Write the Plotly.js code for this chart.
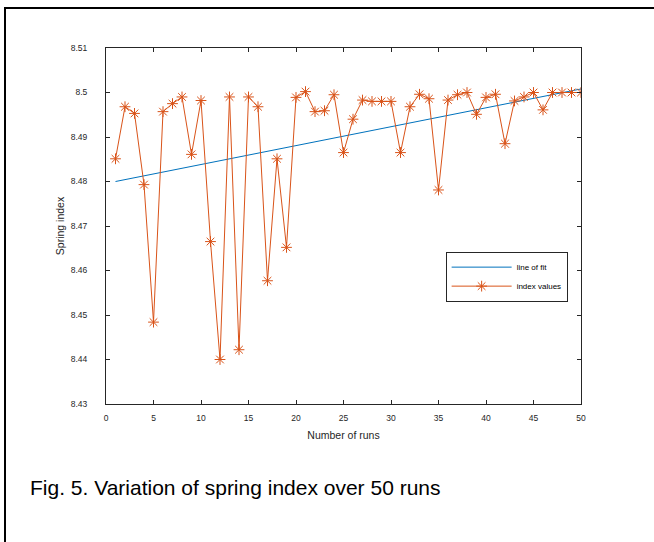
<!DOCTYPE html>
<html>
<head>
<meta charset="utf-8">
<script src="https://cdn.plot.ly/plotly-3.0.1.min.js"></script>
<style>
html,body{margin:0;padding:0;background:#fff;}
#wrap{position:relative;width:654px;height:542px;}
#frame{position:absolute;left:4px;top:7px;width:650px;height:535px;border-top:2px solid #000;border-left:2px solid #000;box-sizing:border-box;pointer-events:none;z-index:5;}
#chart{position:absolute;left:0;top:0;width:654px;height:542px;}
</style>
</head>
<body>
<div id="wrap"><div id="chart"></div><div id="frame"></div></div>
<script>
const runs = [1,2,3,4,5,6,7,8,9,10,11,12,13,14,15,16,17,18,19,20,21,22,23,24,25,26,27,28,29,30,31,32,33,34,35,36,37,38,39,40,41,42,43,44,45,46,47,48,49,50];
const indexValues = [8.4851,8.4968,8.4953,8.4793,8.4484,8.4957,8.4975,8.4990,8.4861,8.4982,
  8.4665,8.4400,8.4990,8.4422,8.4990,8.4968,8.4577,8.4851,8.4652,8.4989,
  8.5002,8.4957,8.4959,8.4995,8.4865,8.4940,8.4983,8.4980,8.4980,8.4980,
  8.4865,8.4968,8.4996,8.4986,8.4781,8.4983,8.4995,8.5000,8.4951,8.4989,
  8.4996,8.4885,8.4981,8.4990,8.5000,8.4961,8.5000,8.5000,8.5000,8.5000];
const fitX = [1,50];
const fitY = [8.4800,8.5008];
const xTicks = [0,5,10,15,20,25,30,35,40,45,50];
const yTicks = [8.43,8.44,8.45,8.46,8.47,8.48,8.49,8.5,8.51];

const font = "'Liberation Sans', Arial, sans-serif";
const traces = [
  {x: fitX, y: fitY, type:'scatter', mode:'lines', name:'line of fit',
   line:{color:'#0072BD', width:1}},
  {x: runs, y: indexValues, type:'scatter', mode:'lines+markers', name:'index values',
   line:{color:'#D95319', width:1},
   marker:{symbol:'asterisk-open', size:9, color:'#D95319', line:{color:'#D95319', width:1}}}
];
const axisCommon = {
  showgrid:false, zeroline:false, showline:true, linecolor:'#262626', linewidth:1,
  mirror:'allticks', ticks:'inside', ticklen:4, tickcolor:'#262626', tickwidth:1,
  tickfont:{family:font, size:8.5, color:'#262626'}
};
const layout = {
  width:654, height:542,
  margin:{l:105.5, r:73, t:48, b:138},
  paper_bgcolor:'#fff', plot_bgcolor:'#fff',
  showlegend:true,
  legend:{x:0.715, y:0.428, xanchor:'left', yanchor:'top', bgcolor:'#fff',
    bordercolor:'#262626', borderwidth:1, font:{family:font, size:8, color:'#000'},
    tracegroupgap:0, itemwidth:60},
  xaxis: Object.assign({}, axisCommon, {range:[0,50], tickvals:xTicks, ticklabelstandoff:6,
    title:{text:'Number of runs', font:{family:font, size:10.5, color:'#262626'}, standoff:9}}),
  yaxis: Object.assign({}, axisCommon, {range:[8.43,8.51], tickvals:yTicks, ticklabelstandoff:16,
    title:{text:'Spring index', font:{family:font, size:10.5, color:'#262626'}, standoff:4}}),
  annotations:[{text:'Fig. 5. Variation of spring index over 50 runs', xref:'paper', yref:'paper',
    x:(27-105.5)/475.5, y:(404-488)/356, xanchor:'left', yanchor:'middle', showarrow:false,
    font:{family:font, size:21, color:'#000'}}]
};
Plotly.newPlot('chart', traces, layout, {displayModeBar:false, staticPlot:true});
</script>
</body>
</html>
